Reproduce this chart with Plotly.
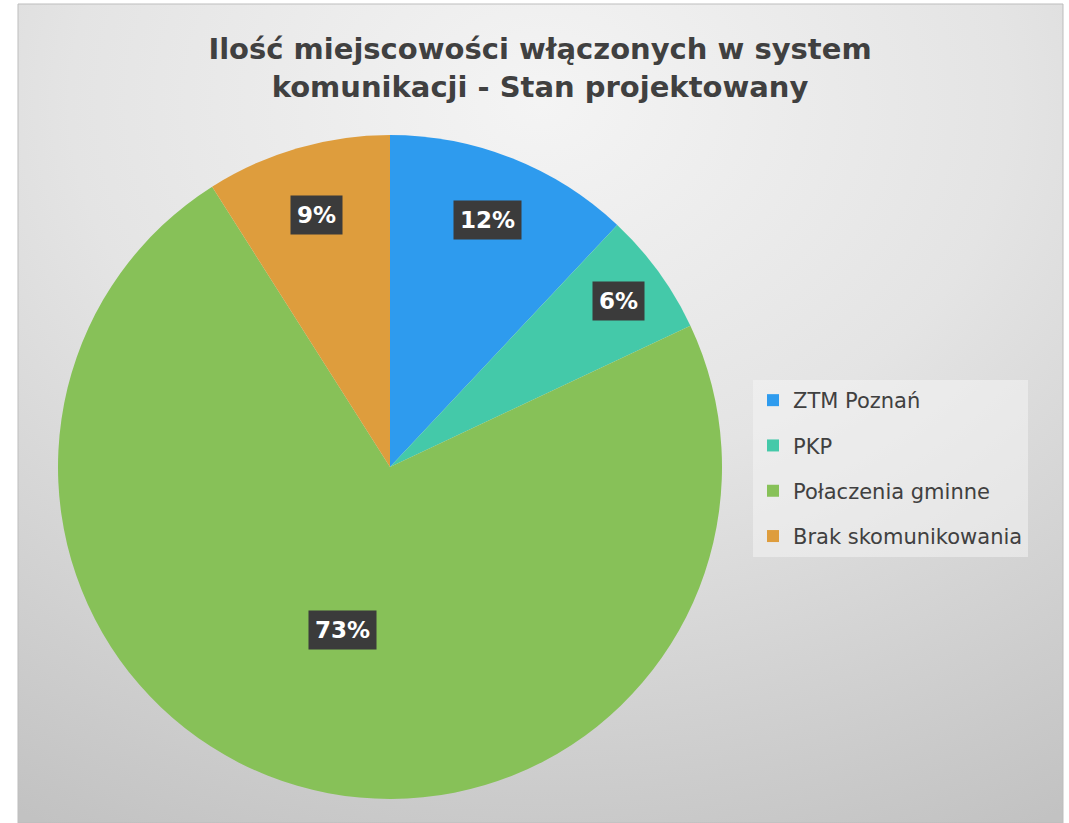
import base64
import math
import plotly.graph_objects as go

# ---- data ----
categories = ["ZTM Poznań", "PKP", "Połaczenia gminne", "Brak skomunikowania"]
shares = [12, 6, 73, 9]
title_line1 = "Ilość miejscowości włączonych w system"
title_line2 = "komunikacji - Stan projektowany"

# ---- style ----
colors = ["#2E9BEE", "#44C9A9", "#87C158", "#DE9D3D"]
label_radius = [0.80, 0.85, 0.51, 0.79]  # fraction of pie radius for label boxes

W, H = 1069, 823
dom_x = [(390 - 332) / W, (390 + 332) / W]
dom_y = [1 - 799 / H, 1 - 135 / H]

svg = (
    "<svg xmlns='http://www.w3.org/2000/svg' width='1045' height='819' preserveAspectRatio='none'>"
    "<defs><radialGradient id='g' cx='0.5' cy='0.12' r='1.0'>"
    "<stop offset='0' stop-color='#f4f4f4'/><stop offset='0.45' stop-color='#e4e4e4'/>"
    "<stop offset='1' stop-color='#c2c2c2'/></radialGradient></defs>"
    "<rect width='100%' height='100%' fill='url(#g)'/></svg>"
)
bg_uri = "data:image/svg+xml;base64," + base64.b64encode(svg.encode()).decode()

fig = go.Figure()
fig.add_trace(go.Pie(
    labels=categories, values=shares, sort=False, direction="clockwise", rotation=0,
    marker=dict(colors=colors, line=dict(width=0)),
    textinfo="none", hoverinfo="label+percent", showlegend=False,
    domain=dict(x=dom_x, y=dom_y),
))

# legend entries (one group each so spacing can be set)
for cat, col in zip(categories, colors):
    fig.add_trace(go.Scatter(
        x=[None], y=[None], mode="markers", name=cat, legendgroup=cat,
        marker=dict(symbol="square", size=12, color=col),
    ))

# data labels computed from the values
total = sum(shares)
cx = sum(dom_x) / 2
cy = sum(dom_y) / 2
R = min((dom_x[1] - dom_x[0]) * W, (dom_y[1] - dom_y[0]) * H) / 2
cum = 0
annotations = []
for v, rf in zip(shares, label_radius):
    theta = 2 * math.pi * (cum + v / 2) / total
    cum += v
    ax = cx + rf * R * math.sin(theta) / W
    ay = cy + rf * R * math.cos(theta) / H
    annotations.append(dict(
        x=ax, y=ay, xref="paper", yref="paper", xanchor="center", yanchor="middle",
        showarrow=False, text=f"{round(100 * v / total)}%",
        font=dict(family="DejaVu Sans", size=23, color="white", weight="bold"),
        bgcolor="#3b3b3b", borderpad=6,
    ))

title_font = dict(family="DejaVu Sans", size=29, color="#404040", weight="bold")

fig.update_layout(
    width=W, height=H, margin=dict(l=0, r=0, t=0, b=0),
    paper_bgcolor="white", plot_bgcolor="rgba(0,0,0,0)",
    xaxis=dict(visible=False), yaxis=dict(visible=False),
    images=[dict(source=bg_uri, xref="paper", yref="paper", x=18 / W, y=1 - 4 / H,
                 sizex=(1063 - 18) / W, sizey=(823 - 4) / H, sizing="stretch",
                 xanchor="left", yanchor="top", layer="below")],
    shapes=[dict(type="rect", xref="paper", yref="paper", x0=18 / W, x1=1063 / W,
                 y0=0, y1=1 - 4 / H, line=dict(color="#bdbdbd", width=1), layer="below")],
    title=dict(
        text=title_line1 + "<br>" + title_line2,
        x=540 / W, xanchor="center", y=1 - 59 / H, yanchor="middle",
        font=title_font,
    ),
    legend=dict(
        x=753 / W, xanchor="left", y=1 - 380 / H, yanchor="top",
        bgcolor="rgba(244,244,244,0.55)", tracegroupgap=15,
        font=dict(family="DejaVu Sans", size=21, color="#404040"),
        itemclick=False, itemdoubleclick=False,
    ),
    annotations=annotations,
)

fig.write_html("out.html", config={"displayModeBar": False},
               post_script="document.body.style.margin='0';document.body.style.overflow='hidden';")
